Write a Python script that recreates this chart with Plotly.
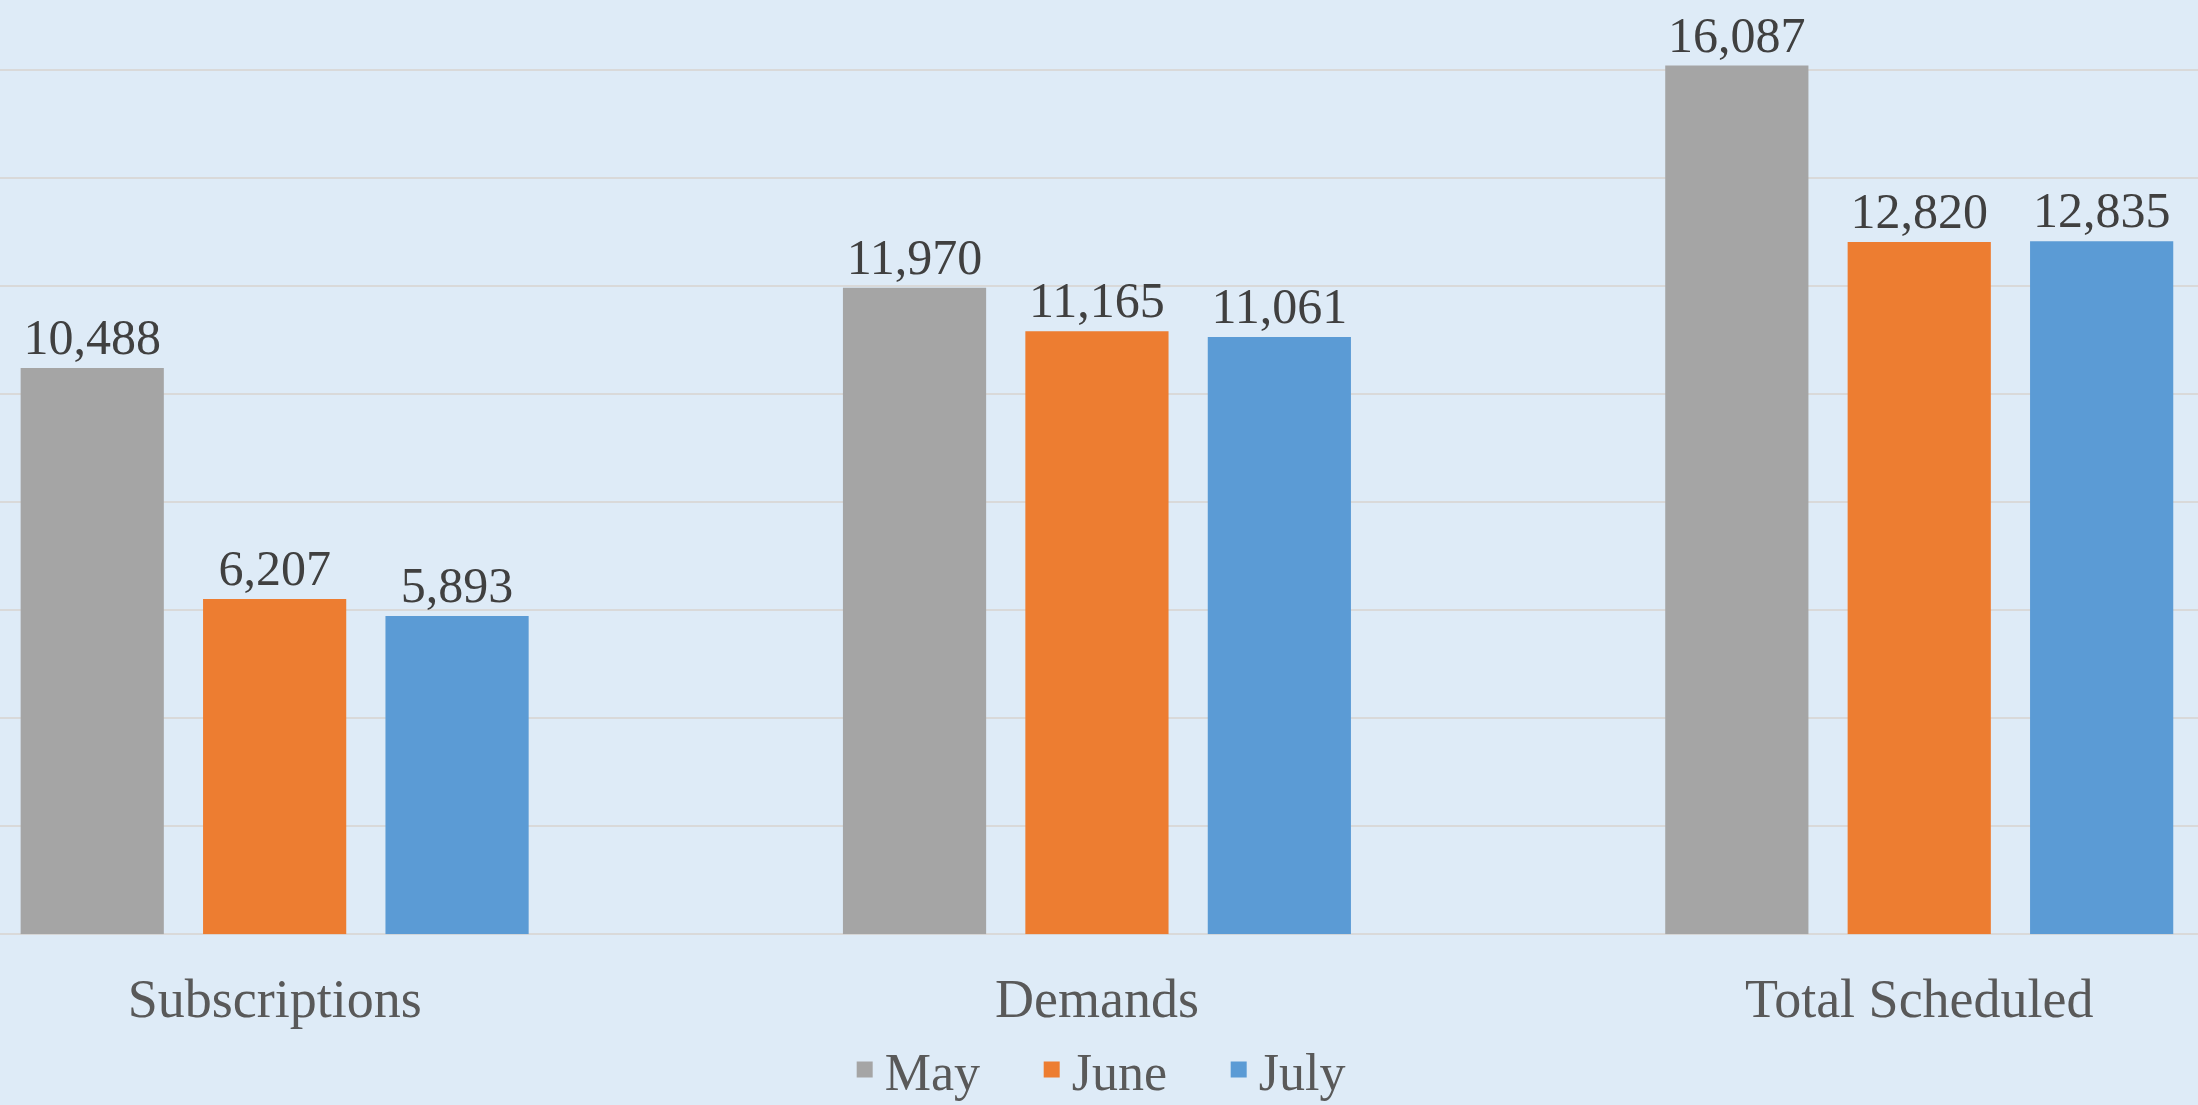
import plotly.graph_objects as go

categories = ["Subscriptions", "Demands", "Total Scheduled"]
months = ["May", "June", "July"]
may_values = [10488, 11970, 16087]
june_values = [6207, 11165, 12820]
july_values = [5893, 11061, 12835]
colors = ["#A5A5A5", "#ED7D31", "#5B9BD5"]

series = [may_values, june_values, july_values]

fig = go.Figure()
for name, vals, col in zip(months, series, colors):
    fig.add_trace(go.Bar(
        x=categories, y=vals, name=name, legendgroup=name, showlegend=False,
        marker=dict(color=col, line=dict(width=0)),
        text=[f"{v:,}" for v in vals],
        textposition="outside",
        textfont=dict(family="Liberation Serif", size=50, color="#404040"),
        cliponaxis=False,
    ))
# legend entries with larger square swatches
for name, col in zip(months, colors):
    fig.add_trace(go.Scatter(
        x=[None], y=[None], name=name, legendgroup=name, mode="markers",
        marker=dict(symbol="square", size=16, color=col), showlegend=True,
    ))

fig.update_layout(
    width=2198, height=1105,
    margin=dict(l=0, r=0, t=0, b=164),
    paper_bgcolor="#DEEBF7", plot_bgcolor="#DEEBF7",
    barmode="group", bargap=0.3345, bargroupgap=0.215,
    font=dict(family="Liberation Serif", color="#595959"),
    showlegend=True,
    legend=dict(orientation="h", x=0.3843, xanchor="left", xref="paper",
                y=0.032, yanchor="middle", yref="container",
                itemsizing="trace", entrywidth=142,
                font=dict(size=52, color="#595959"), bgcolor="rgba(0,0,0,0)"),
    xaxis=dict(range=[-0.334, 2.339], showgrid=False, zeroline=False, showline=False,
               ticks="outside", ticklen=17, tickcolor="rgba(0,0,0,0)",
               tickfont=dict(size=54, color="#595959")),
    yaxis=dict(range=[0, 17300], dtick=2000, showgrid=True, gridcolor="#D9D9D9", gridwidth=2,
               zeroline=True, zerolinecolor="#D9D9D9", zerolinewidth=2,
               showticklabels=False, showline=False),
)

fig.write_html("out.html", config={"displayModeBar": False},
               post_script="document.body.style.margin='0px';document.body.style.overflow='hidden';")
